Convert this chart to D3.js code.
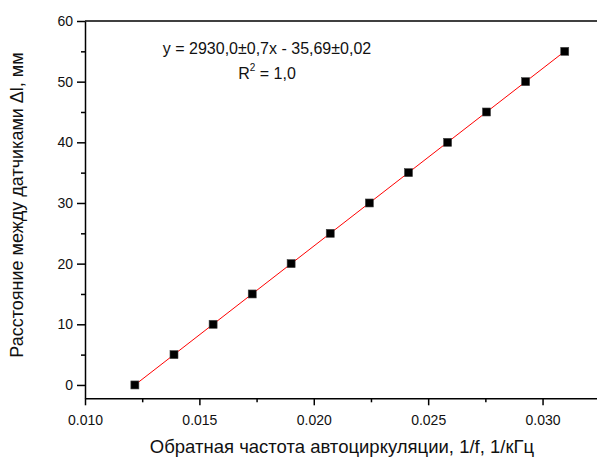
<!DOCTYPE html>
<html>
<head>
<meta charset="utf-8">
<script src="https://cdn.jsdelivr.net/npm/d3@7"></script>
<style>
  body { margin: 0; background: #fff; }
  svg { display: block; font-family: "Liberation Sans", Arial, sans-serif; }
  .axis path, .axis line { stroke: #000; }
</style>
</head>
<body>
<svg></svg>
<script>
// данные
const invFreq = [0.01218, 0.01389, 0.01560, 0.01731, 0.01901, 0.02072,
                 0.02243, 0.02414, 0.02585, 0.02755, 0.02926, 0.03097];
const distance = [0, 5, 10, 15, 20, 25, 30, 35, 40, 45, 50, 55];
const xTicks = [0.010, 0.015, 0.020, 0.025, 0.030];
const yTicks = [0, 10, 20, 30, 40, 50, 60];
const fitText = "y = 2930,0\u00B10,7x - 35,69\u00B10,02";

const width = 597, height = 460;
const svg = d3.select("svg").attr("width", width).attr("height", height);

const x = d3.scaleLinear().domain([0.010, 0.03238]).range([85, 597]);
const y = d3.scaleLinear().domain([-2.2, 60]).range([398.3, 21]);

// малые деления
const xMinor = d3.range(0.0125, 0.0325, 0.005);
const yMinor = d3.range(5, 60, 10);

svg.append("g")
  .attr("class", "axis")
  .attr("transform", "translate(0,398.3)")
  .call(d3.axisBottom(x).tickValues(xMinor).tickSize(4).tickFormat(""))
  .call(g => g.select(".domain").remove())
  .selectAll("line").attr("stroke-width", 1.5);

svg.append("g")
  .attr("class", "axis")
  .attr("transform", "translate(85,0)")
  .call(d3.axisLeft(y).tickValues(yMinor).tickSize(4).tickFormat(""))
  .call(g => g.select(".domain").remove())
  .selectAll("line").attr("stroke-width", 1.5);

const xAxis = svg.append("g")
  .attr("class", "axis")
  .attr("transform", "translate(0,398.3)")
  .call(d3.axisBottom(x).tickValues(xTicks).tickSize(7).tickSizeOuter(0)
    .tickFormat(d3.format(".3f")));
xAxis.select(".domain").attr("stroke-width", 1.5);
xAxis.selectAll("line").attr("stroke-width", 1.5);
xAxis.selectAll("text").attr("font-size", 14).attr("fill", "#111")
  .attr("font-family", "'Liberation Sans', Arial, sans-serif").attr("dy", "1.2em");

const yAxis = svg.append("g")
  .attr("class", "axis")
  .attr("transform", "translate(85,0)")
  .call(d3.axisLeft(y).tickValues(yTicks).tickSize(8).tickSizeOuter(0));
yAxis.select(".domain").attr("stroke-width", 1.5);
yAxis.selectAll("line").attr("stroke-width", 1.5);
yAxis.selectAll("text").attr("font-size", 14).attr("fill", "#111")
  .attr("font-family", "'Liberation Sans', Arial, sans-serif").attr("x", -12);

// верхняя рамка
svg.append("line")
  .attr("x1", 85).attr("x2", width)
  .attr("y1", y(60)).attr("y2", y(60))
  .attr("stroke", "#000").attr("stroke-width", 1.5);

// линия аппроксимации
const first = 0, last = invFreq.length - 1;
svg.append("line")
  .attr("x1", x(invFreq[first])).attr("y1", y(distance[first]))
  .attr("x2", x(invFreq[last])).attr("y2", y(distance[last]))
  .attr("stroke", "#ff0000").attr("stroke-width", 1);

// точки
svg.append("g")
  .selectAll("rect")
  .data(invFreq)
  .join("rect")
  .attr("x", (d) => x(d) - 4)
  .attr("y", (d, i) => y(distance[i]) - 4)
  .attr("width", 8).attr("height", 8)
  .attr("fill", "#000")
  .attr("stroke", "#444").attr("stroke-width", 0.6);

// уравнение
svg.append("text")
  .attr("x", 267).attr("y", 54)
  .attr("text-anchor", "middle")
  .attr("font-size", 16)
  .attr("fill", "#111")
  .text(fitText);

const r2 = svg.append("text")
  .attr("x", 267).attr("y", 79)
  .attr("text-anchor", "middle")
  .attr("font-size", 16)
  .attr("fill", "#111");
r2.append("tspan").text("R");
r2.append("tspan").attr("font-size", 10).attr("dy", -8).text("2");
r2.append("tspan").attr("dy", 8).text(" = 1,0");

// подписи осей
svg.append("text")
  .attr("x", 342).attr("y", 453)
  .attr("text-anchor", "middle")
  .attr("font-size", 18.5)
  .attr("fill", "#111")
  .text("Обратная частота автоциркуляции, 1/f, 1/кГц");

svg.append("text")
  .attr("transform", "translate(23,205) rotate(-90)")
  .attr("text-anchor", "middle")
  .attr("font-size", 18)
  .attr("fill", "#111")
  .text("Расстояние между датчиками \u0394l, мм");
</script>
</body>
</html>
